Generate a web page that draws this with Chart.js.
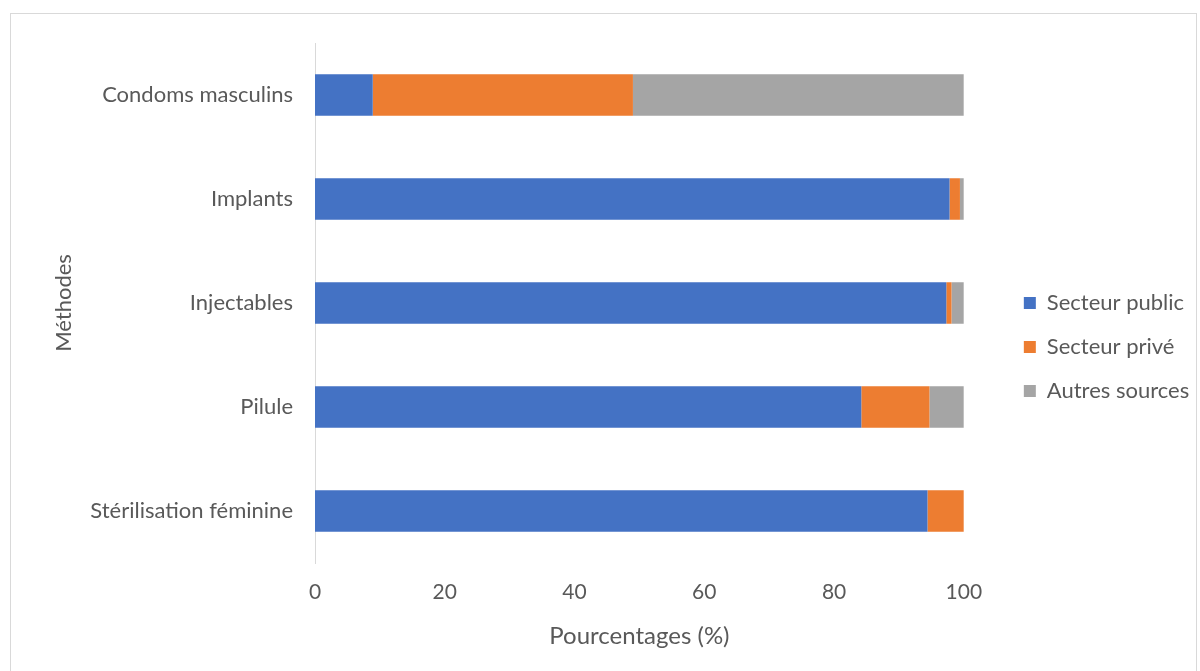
<!DOCTYPE html>
<html>
<head>
<meta charset="utf-8">
<script src="https://cdn.jsdelivr.net/npm/chart.js@4.4.1/dist/chart.umd.min.js"></script>
<style>
  html, body { margin: 0; padding: 0; background: #ffffff; }
  #wrap { position: relative; width: 1200px; height: 671px; }
  #frame { position: absolute; left: 10px; top: 13px; width: 1187px; height: 660px; border: 1px solid #d9d9d9; box-sizing: border-box; pointer-events: none; }
  canvas { position: absolute; left: 0; top: 0; }
</style>
</head>
<body>
<div id="wrap">
  <canvas id="c" width="1200" height="671"></canvas>
  <div id="frame"></div>
</div>
<script>
const categories = ["Condoms masculins", "Implants", "Injectables", "Pilule", "Stérilisation féminine"];
const publicSector = [8.9, 97.8, 97.3, 84.2, 94.4];
const privateSector = [40.1, 1.6, 0.8, 10.5, 5.6];
const otherSources = [51.0, 0.6, 1.9, 5.3, 0.0];
const seriesNames = ["Secteur public", "Secteur privé", "Autres sources"];
const xTicks = [0, 20, 40, 60, 80, 100];

const FONT = "Lato, 'Open Sans', sans-serif";
const GREY = "#595959";
const PAD_L = 51, PAD_T = 43, PAD_R = 8, PAD_B = 20;

new Chart(document.getElementById('c'), {
  type: 'bar',
  data: {
    labels: categories,
    datasets: [
      { label: seriesNames[0], data: publicSector, backgroundColor: '#4472C4' },
      { label: seriesNames[1], data: privateSector, backgroundColor: '#ED7D31' },
      { label: seriesNames[2], data: otherSources, backgroundColor: '#A5A5A5' }
    ]
  },
  options: {
    indexAxis: 'y',
    responsive: false,
    animation: false,
    devicePixelRatio: 1,
    datasets: { bar: { barPercentage: 0.4, categoryPercentage: 1.0, borderWidth: 0 } },
    layout: { padding: { left: PAD_L, top: PAD_T, right: PAD_R, bottom: PAD_B } },
    plugins: {
      tooltip: { enabled: false },
      legend: {
        position: 'right',
        labels: {
          color: GREY,
          font: { family: FONT, size: 22 },
          boxWidth: 12, boxHeight: 12,
          padding: 22
        }
      }
    },
    scales: {
      x: {
        stacked: true,
        min: 0, max: 100,
        afterBuildTicks: (s) => { s.ticks = xTicks.map(v => ({ value: v })); },
        grid: { display: false, drawTicks: false },
        border: { display: false },
        ticks: { color: GREY, font: { family: FONT, size: 21 }, padding: 17 },
        title: { display: true, text: 'Pourcentages (%)', color: GREY, font: { family: FONT, size: 24 }, padding: { top: 8, bottom: 0 } },
        afterFit: (s) => { s.height = 671 - PAD_B - 563; }
      },
      y: {
        stacked: true,
        grid: { display: false, drawTicks: false },
        border: { display: true, color: '#d9d9d9', width: 1 },
        ticks: { color: GREY, font: { family: FONT, size: 22 }, padding: 22 },
        title: { display: true, text: 'Méthodes', color: GREY, font: { family: FONT, size: 22 }, padding: 0 },
        afterFit: (s) => { s.width = 315 - PAD_L; }
      },
      ySpacer: {
        type: 'category',
        labels: categories,
        position: 'right',
        display: true,
        grid: { display: false, drawTicks: false },
        border: { display: false },
        ticks: { display: false },
        afterFit: (s) => { s.width = 38; }
      }
    }
  }
});
</script>
</body>
</html>
